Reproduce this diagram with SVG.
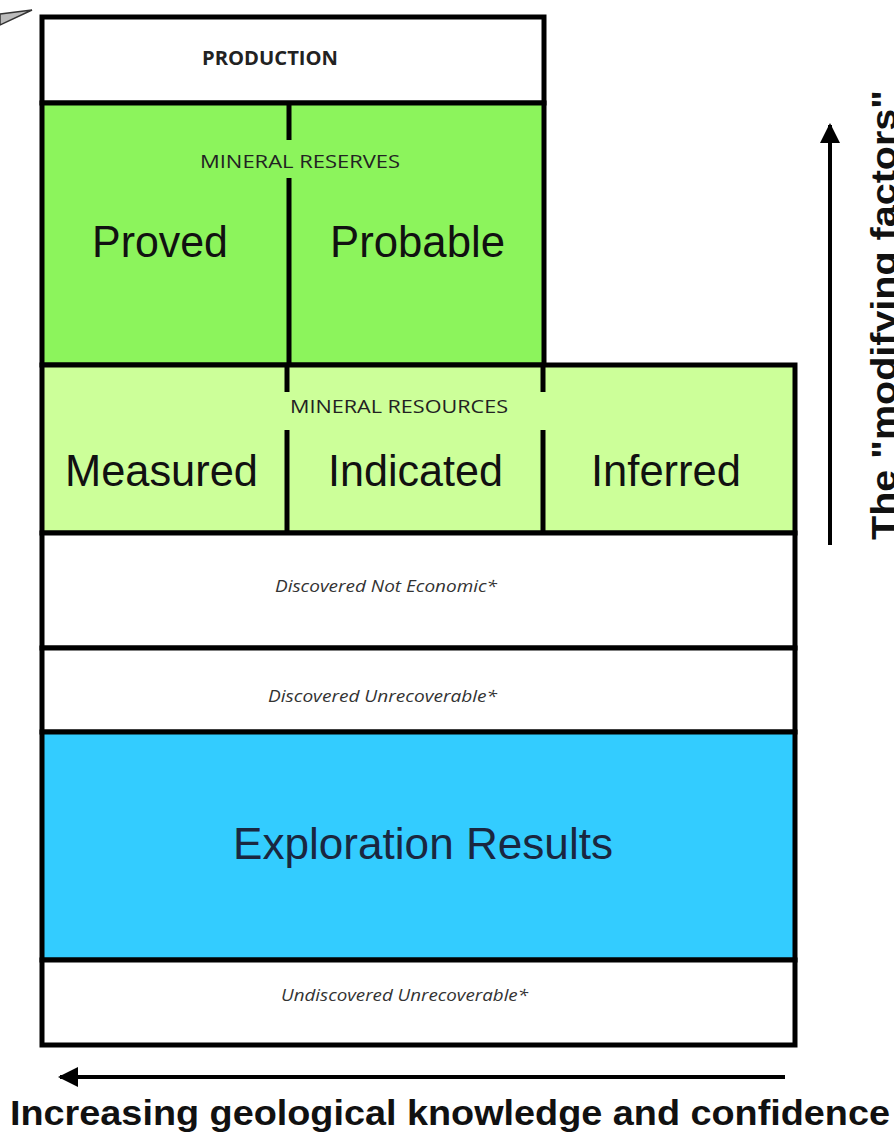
<svg xmlns="http://www.w3.org/2000/svg" width="894" height="1136" viewBox="0 0 894 1136">
<style>
.box{stroke:#000;stroke-width:5}
.div{stroke:#000;stroke-width:5;fill:none}
.big{font-family:"Liberation Sans",Arial,sans-serif;font-size:44px;fill:#111}
.cap{font-family:"Open Sans","Noto Sans",sans-serif;font-size:19px;fill:#222}
.it{font-family:"Open Sans","Noto Sans",sans-serif;font-size:16px;font-style:italic;fill:#333}
.lbl{font-family:"Liberation Sans",Arial,sans-serif;font-size:35px;font-weight:bold;fill:#111}
</style>
<defs>
<marker id="ah" viewBox="0 0 10 10" refX="9" refY="5" markerWidth="5" markerHeight="5" orient="auto-start-reverse" markerUnits="strokeWidth">
<path d="M0,0 L10,5 L0,10 z" fill="#000"/>
</marker>
</defs>
<rect width="894" height="1136" fill="#fff"/>
<polygon points="0,14 32,10 0,25" fill="#bbb" stroke="#333" stroke-width="1.5"/>
<g id="production">
<rect class="box" x="42" y="17" width="502" height="86" fill="#fff"/>
<text class="cap" x="202" y="65" font-weight="bold" textLength="136" lengthAdjust="spacingAndGlyphs">PRODUCTION</text>
</g>
<g id="reserves">
<rect class="box" x="42" y="103" width="502" height="262" fill="#8cf45c"/>
<line class="div" x1="289" y1="103" x2="289" y2="140"/>
<line class="div" x1="289" y1="178" x2="289" y2="365"/>
<text class="cap" x="200" y="168" textLength="200" lengthAdjust="spacingAndGlyphs">MINERAL RESERVES</text>
<text class="big" x="92" y="257" textLength="136" lengthAdjust="spacingAndGlyphs">Proved</text>
<text class="big" x="330" y="257" textLength="175" lengthAdjust="spacingAndGlyphs">Probable</text>
</g>
<g id="resources">
<rect class="box" x="42" y="365" width="753" height="168" fill="#ccff99"/>
<line class="div" x1="287" y1="365" x2="287" y2="392"/>
<line class="div" x1="287" y1="430" x2="287" y2="533"/>
<line class="div" x1="543" y1="365" x2="543" y2="392"/>
<line class="div" x1="543" y1="430" x2="543" y2="533"/>
<text class="cap" x="290" y="413" textLength="218" lengthAdjust="spacingAndGlyphs">MINERAL RESOURCES</text>
<text class="big" x="65" y="486" textLength="193" lengthAdjust="spacingAndGlyphs">Measured</text>
<text class="big" x="328" y="486" textLength="175" lengthAdjust="spacingAndGlyphs">Indicated</text>
<text class="big" x="591" y="486" textLength="150" lengthAdjust="spacingAndGlyphs">Inferred</text>
</g>
<g id="not-economic">
<rect class="box" x="42" y="533" width="753" height="115" fill="#fff"/>
<text class="it" x="275" y="592" textLength="222" lengthAdjust="spacingAndGlyphs">Discovered Not Economic*</text>
</g>
<g id="unrecoverable">
<rect class="box" x="42" y="648" width="753" height="84" fill="#fff"/>
<text class="it" x="268" y="702" textLength="229" lengthAdjust="spacingAndGlyphs">Discovered Unrecoverable*</text>
</g>
<g id="exploration">
<rect class="box" x="42" y="732" width="753" height="228" fill="#33ccff"/>
<text class="big" x="233" y="859" textLength="380" lengthAdjust="spacingAndGlyphs" style="fill:#1a2740">Exploration Results</text>
</g>
<g id="undiscovered">
<rect class="box" x="42" y="960" width="753" height="85" fill="#fff"/>
<text class="it" x="281" y="1001" textLength="247" lengthAdjust="spacingAndGlyphs">Undiscovered Unrecoverable*</text>
</g>
<g id="connectors">
<line x1="785" y1="1077" x2="60" y2="1077" stroke="#000" stroke-width="4" marker-end="url(#ah)"/>
<line x1="830" y1="545" x2="830" y2="125" stroke="#000" stroke-width="4" marker-end="url(#ah)"/>
</g>
<text class="lbl" x="10" y="1125" textLength="880" lengthAdjust="spacingAndGlyphs">Increasing geological knowledge and confidence</text>
<text class="lbl" transform="translate(896,540) rotate(-90)" x="0" y="0" textLength="450" lengthAdjust="spacingAndGlyphs">The "modifying factors"</text>
</svg>
